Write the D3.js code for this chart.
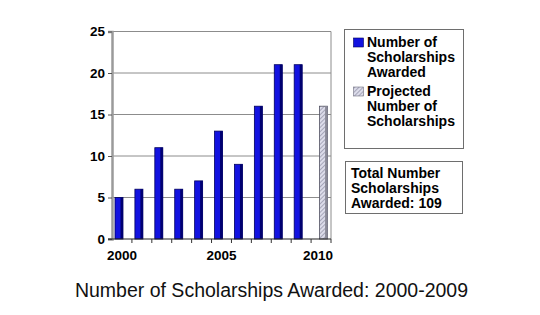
<!DOCTYPE html>
<html>
<head>
<meta charset="utf-8">
<script src="https://cdn.jsdelivr.net/npm/d3@7"></script>
<style>
  body { margin: 0; background: #fff; }
  svg { display: block; font-family: Arial, "Liberation Sans", sans-serif; }
</style>
</head>
<body>
<div id="chart"></div>
<script>
// values
const years = ['2000','2001','2002','2003','2004','2005','2006','2007','2008','2009','2010'];
const awarded = [5, 6, 11, 6, 7, 13, 9, 16, 21, 21, null];
const projected = [null, null, null, null, null, null, null, null, null, null, 16];
const series = ['awarded', 'projected'];
const yTicks = [0, 5, 10, 15, 20, 25];
const xLabels = ['2000', '2005', '2010'];
const legendItems = [
  {key: 'awarded', lines: ['Number of', 'Scholarships', 'Awarded']},
  {key: 'projected', lines: ['Projected', 'Number of', 'Scholarships']}
];
const totalLines = ['Total Number', 'Scholarships', 'Awarded: 109'];
const title = 'Number of Scholarships Awarded: 2000-2009';

const width = 540, height = 315;
const plot = {left: 112, right: 331, top: 31.5, bottom: 239};

const svg = d3.select('#chart').append('svg')
  .attr('width', width)
  .attr('height', height);

// hatch for the projected bar
const defs = svg.append('defs');
const pat = defs.append('pattern')
  .attr('id', 'hatch')
  .attr('patternUnits', 'userSpaceOnUse')
  .attr('width', 3).attr('height', 3)
  .attr('patternTransform', 'rotate(45)');
pat.append('rect').attr('width', 3).attr('height', 3).attr('fill', '#dcdcea');
pat.append('line').attr('x1', 0).attr('y1', 0).attr('x2', 0).attr('y2', 3)
  .attr('stroke', '#7a7a90').attr('stroke-width', 1.1);

const x0 = d3.scaleBand()
  .domain(years)
  .range([plot.left, plot.right])
  .padding(0);

// bars of the two series sit a little apart inside each year
const x1 = d3.scalePoint()
  .domain(series)
  .range([3, 8.5]);
const barW = 8;

const y = d3.scaleLinear()
  .domain([0, 25])
  .range([plot.bottom, plot.top]);

// grid lines
svg.append('g')
  .selectAll('line')
  .data(yTicks.filter(d => d > 0))
  .join('line')
  .attr('x1', plot.left).attr('x2', plot.right)
  .attr('y1', d => y(d)).attr('y2', d => y(d))
  .attr('stroke', '#8c8c8c')
  .attr('stroke-width', 1);

// right border
svg.append('line')
  .attr('x1', plot.right).attr('x2', plot.right)
  .attr('y1', plot.top).attr('y2', plot.bottom)
  .attr('stroke', '#8c8c8c');

// y axis
const yAxis = svg.append('g')
  .attr('transform', `translate(${plot.left},0)`)
  .call(d3.axisLeft(y).tickValues(yTicks).tickSize(4).tickPadding(3));
yAxis.select('.domain').attr('stroke', '#9a9a9a').attr('stroke-width', 2.5);
yAxis.selectAll('.tick line').attr('stroke', '#555');
yAxis.selectAll('text')
  .attr('font-size', 13.5).attr('font-weight', 'bold').attr('fill', '#000')
  .attr('font-family', 'Arial, "Liberation Sans", sans-serif');

// bars
const rows = years.map((yr, i) => ({year: yr, awarded: awarded[i], projected: projected[i]}));
const bars = [];
rows.forEach(r => series.forEach(s => {
  if (r[s] != null) bars.push({year: r.year, key: s, value: r[s]});
}));

const barG = svg.append('g')
  .selectAll('g')
  .data(bars)
  .join('g')
  .attr('transform', d => `translate(${x0(d.year) + x1(d.key)},0)`);

barG.append('rect')
  .attr('x', 0)
  .attr('y', d => y(d.value))
  .attr('width', barW)
  .attr('height', d => y(0) - y(d.value))
  .attr('fill', d => d.key === 'awarded' ? '#1212e0' : 'url(#hatch)')
  .attr('stroke', d => d.key === 'awarded' ? '#00005a' : '#505060')
  .attr('stroke-width', 0.8);

// darker side for the 3-d look
barG.append('rect')
  .attr('x', barW - 2.5)
  .attr('y', d => y(d.value))
  .attr('width', 2.5)
  .attr('height', d => y(0) - y(d.value))
  .attr('fill', d => d.key === 'awarded' ? '#000070' : '#8a8a98');

// x axis
const xAxis = svg.append('g')
  .attr('transform', `translate(0,${plot.bottom})`);
xAxis.append('line')
  .attr('x1', plot.left - 4).attr('x2', plot.right)
  .attr('stroke', '#222').attr('stroke-width', 1.2);
xAxis.selectAll('line.tk')
  .data(years)
  .join('line')
  .attr('class', 'tk')
  .attr('x1', d => x0(d) + x0.bandwidth())
  .attr('x2', d => x0(d) + x0.bandwidth())
  .attr('y1', 0).attr('y2', 4)
  .attr('stroke', '#333');
xAxis.selectAll('text')
  .data(xLabels)
  .join('text')
  .attr('x', d => x0(d) + x0.bandwidth() / 2 - (d === '2010' ? 3 : 0))
  .attr('y', 21)
  .attr('text-anchor', 'middle')
  .attr('font-size', 13.5)
  .attr('font-weight', 'bold')
  .text(d => d);

// legend box
const legend = svg.append('g');
legend.append('rect')
  .attr('x', 344.5).attr('y', 29.5)
  .attr('width', 119).attr('height', 119)
  .attr('fill', '#fff').attr('stroke', '#6e6e6e');

legendItems.forEach((item, i) => {
  const top = 42 + i * 49;
  legend.append('rect')
    .attr('x', 353.5).attr('y', top - 4)
    .attr('width', 10).attr('height', 9)
    .attr('fill', item.key === 'awarded' ? '#1212e0' : 'url(#hatch)')
    .attr('stroke', item.key === 'awarded' ? '#00005a' : '#707080')
    .attr('stroke-width', 0.6);
  legend.append('text')
    .attr('x', 367)
    .attr('y', top + 5)
    .attr('font-size', 14)
    .attr('font-weight', 'bold')
    .selectAll('tspan')
    .data(item.lines)
    .join('tspan')
    .attr('x', 367)
    .attr('dy', (d, j) => j === 0 ? 0 : 14.8)
    .text(d => d);
});

// total box
const total = svg.append('g');
total.append('rect')
  .attr('x', 345.5).attr('y', 161.5)
  .attr('width', 117).attr('height', 52)
  .attr('fill', '#fff').attr('stroke', '#6e6e6e');
total.append('text')
  .attr('y', 178)
  .attr('font-size', 14)
  .attr('font-weight', 'bold')
  .selectAll('tspan')
  .data(totalLines)
  .join('tspan')
  .attr('x', 351)
  .attr('dy', (d, j) => j === 0 ? 0 : 15)
  .text(d => d);

// title
svg.append('text')
  .attr('x', 271.5)
  .attr('y', 297)
  .attr('text-anchor', 'middle')
  .attr('font-size', 19.5)
  .attr('fill', '#111')
  .text(title);
</script>
</body>
</html>
